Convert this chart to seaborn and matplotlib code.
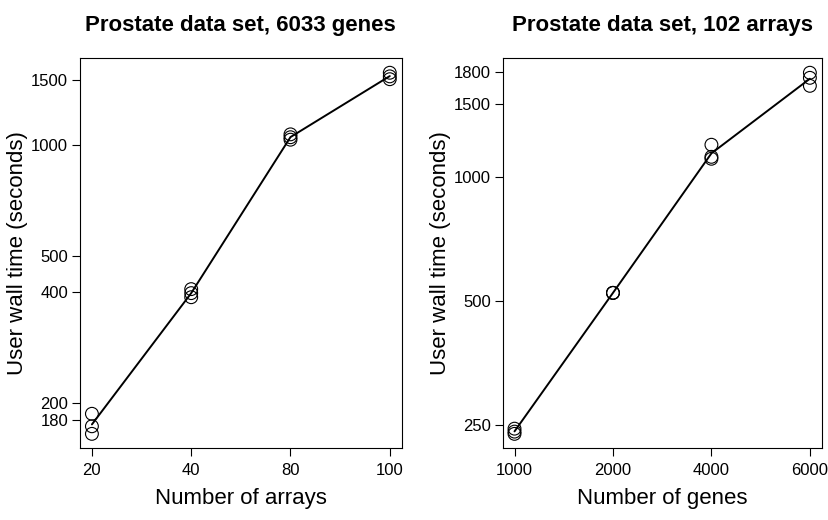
import numpy as np
import pandas as pd
import matplotlib
matplotlib.use("Agg")
import matplotlib.pyplot as plt
import seaborn as sns
from matplotlib.ticker import FixedLocator, NullLocator, FixedFormatter

# ---- data ----
arrays_labels = ["20", "40", "80", "100"]
arrays_times = [
    [187, 173, 165],
    [407, 397, 387],
    [1069, 1050, 1034],
    [1570, 1535, 1508],
]
genes_labels = ["1000", "2000", "4000", "6000"]
genes_times = [
    [245, 241, 238],
    [523, 523, 523],
    [1196, 1118, 1106],
    [1788, 1738, 1662],
]
left_yticks = [180, 200, 400, 500, 1000, 1500]
right_yticks = [250, 500, 1000, 1500, 1800]

titles = ["Prostate data set, 6033 genes", "Prostate data set, 102 arrays"]
xlabels = ["Number of arrays", "Number of genes"]
ylabel = "User wall time (seconds)"

sns.set_style("white")
plt.rcParams["font.family"] = ["Liberation Sans", "DejaVu Sans"]
plt.rcParams["text.color"] = "black"
plt.rcParams["axes.labelcolor"] = "black"
plt.rcParams["xtick.color"] = "black"
plt.rcParams["ytick.color"] = "black"

def make_df(labels, times):
    rows = []
    for i, (lab, vals) in enumerate(zip(labels, times)):
        for v in vals:
            rows.append({"pos": i, "label": lab, "time": v})
    return pd.DataFrame(rows)

fig = plt.figure(figsize=(8.29, 5.2), dpi=100)
ax1 = fig.add_axes([80/829, 1-448.3/520, 321.7/829, 390/520])
ax2 = fig.add_axes([502.7/829, 1-448.3/520, 319/829, 390/520])

for ax, labels, times, yticks, title, xlabel in [
    (ax1, arrays_labels, arrays_times, left_yticks, titles[0], xlabels[0]),
    (ax2, genes_labels, genes_times, right_yticks, titles[1], xlabels[1]),
]:
    df = make_df(labels, times)
    sns.lineplot(data=df, x="pos", y="time", estimator="mean", errorbar=None,
                 color="black", linewidth=1.4, ax=ax, zorder=2)
    sns.scatterplot(data=df, x="pos", y="time", marker="o", s=85,
                    facecolor="none", edgecolor="black", linewidth=0.8,
                    ax=ax, zorder=3)
    ax.set_yscale("log")
    ax.margins(x=0.04, y=0.04)
    ax.yaxis.set_major_locator(FixedLocator(yticks))
    ax.yaxis.set_major_formatter(FixedFormatter([str(t) for t in yticks]))
    ax.yaxis.set_minor_locator(NullLocator())
    ax.set_xticks(range(len(labels)))
    ax.set_xticklabels(labels)
    ax.tick_params(axis="both", which="major", direction="out", length=5.5,
                   width=0.8, color="black", labelcolor="black", labelsize=12,
                   pad=5, bottom=True, left=True)
    ax.tick_params(axis="y", pad=3)
    for sp in ax.spines.values():
        sp.set_color("black")
        sp.set_linewidth(0.8)
    ax.set_title(title, fontsize=16, fontweight="bold", pad=20, color="black")
    ax.set_xlabel(xlabel, fontsize=16, labelpad=7, color="black")
    ax.set_ylabel(ylabel, fontsize=16, labelpad=2, color="black")

fig.savefig("out.png", dpi=100)
